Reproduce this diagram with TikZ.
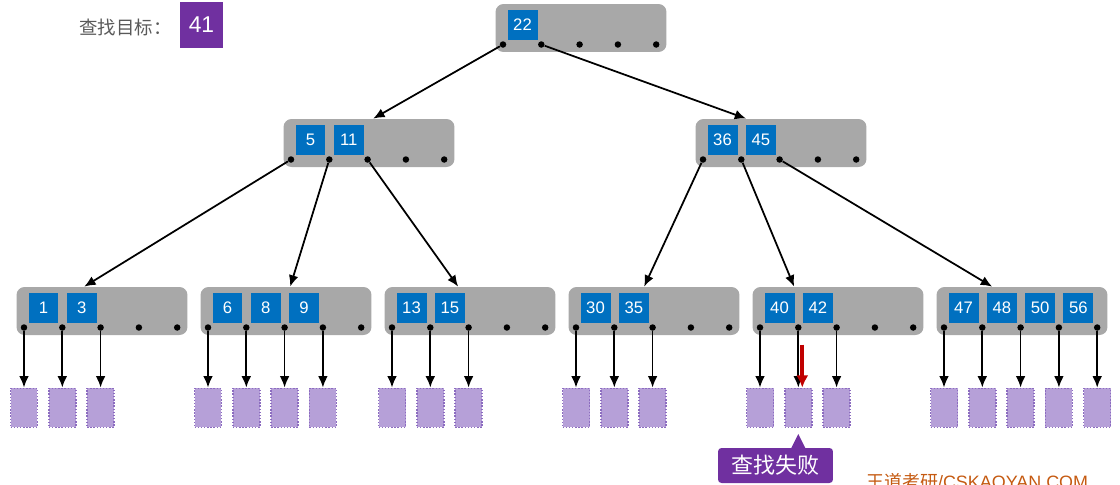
\documentclass[tikz,border=0pt]{standalone}
\usepackage{fontspec}
\setmainfont{Liberation Sans}
\newfontfamily\cjk{Noto Sans CJK SC}
\usetikzlibrary{positioning,calc,arrows.meta}
\definecolor{boxgray}{HTML}{A8A8A8}
\definecolor{keyblue}{HTML}{0070C0}
\definecolor{leafpurple}{HTML}{B6A0D8}
\definecolor{leafedge}{HTML}{8C6CC0}
\definecolor{failpurple}{HTML}{7030A0}
\definecolor{hitred}{HTML}{C00000}
\definecolor{labelgray}{HTML}{595959}
\definecolor{markbrown}{HTML}{C55A11}

\begin{document}
\begin{tikzpicture}[x=0.02cm,y=-0.02cm,
  every node/.append style={inner sep=0pt},
  gbox/.style={fill=boxgray,rounded corners=0.16cm,minimum width=3.42cm,minimum height=0.96cm},
  keybox/.style={fill=keyblue,text=white,minimum size=0.6cm,font=\fontsize{9.5}{10}\selectfont},
  ptr/.style={circle,fill=black,minimum size=0.13cm},
  leaf/.style={fill=leafpurple,draw=leafedge,densely dotted,line width=0.8pt,minimum width=0.54cm,minimum height=0.78cm},
  arr/.style={-{Latex[length=6.5pt,width=5.5pt]},line width=1pt},
  hitarr/.style={-{Latex[length=7pt,width=7pt]},line width=2.3pt,hitred},
  failnote/.style={fill=failpurple,text=white,rounded corners=2pt,
    minimum width=2.3cm,minimum height=0.7cm,font=\cjk\fontsize{12.5}{14}\selectfont}]
\useasboundingbox (0,0) rectangle (1120,484);
% search target
\node[anchor=west,text=labelgray,font=\cjk\fontsize{10.5}{12}\selectfont] (goal) at (79,27) {查找目标：};
\node[fill=failpurple,text=white,minimum width=0.86cm,minimum height=0.92cm,font=\fontsize{13}{14}\selectfont] (goalkey) at (201.5,25) {41};
% tree nodes: keys and pointers
\foreach \nm/\lx/\ty/\keys in {root/495/4/{22}, midL/283/119/{5,11}, midR/695/119/{36,45},
    leafA/16/287/{1,3}, leafB/200/287/{6,8,9}, leafC/384/287/{13,15},
    leafD/568/287/{30,35}, leafE/752/287/{40,42}, leafF/936/287/{47,48,50,56}} {
  \node[gbox] (\nm) at (\lx+86,\ty+24) {};
  \foreach \k [count=\i from 0] in \keys
    \node[keybox] (\nm-k\i) at (\lx+27.5+38.3*\i,\ty+20.5) {\k};
  \foreach \i in {0,...,4}
    \node[ptr] (\nm-p\i) at (\lx+8+38.3*\i,\ty+40.5) {};
}
% tree edges
\draw[arr] (root-p0) -- ($(midL.north west)+(90,0)$);
\draw[arr] (root-p1) -- ($(midR.north west)+(51,0)$);
\draw[arr] (midL-p0) -- ($(leafA.north west)+(68,0)$);
\draw[arr] (midL-p1) -- ($(leafB.north west)+(90,0)$);
\draw[arr] (midL-p2) -- ($(leafC.north west)+(74,0)$);
\draw[arr] (midR-p0) -- ($(leafD.north west)+(76,0)$);
\draw[arr] (midR-p1) -- ($(leafE.north west)+(42,0)$);
\draw[arr] (midR-p2) -- ($(leafF.north west)+(56,0)$);
% failure leaves
\foreach \nm/\n in {leafA/2, leafB/3, leafC/2, leafD/2, leafE/2, leafF/4}
  \foreach \i in {0,...,\n} {
    \node[leaf,below=1.13cm of \nm-p\i] (\nm-c\i) {};
    \draw[arr] (\nm-p\i) -- (\nm-c\i);
  }
% search for 41 ends here
\coordinate (hitfrom) at ($(leafE-c1.north)+(4,-43)$);
\draw[hitarr] (hitfrom) -- ($(leafE-c1.north)+(4,0)$);
\coordinate (failtip) at ($(leafE-c1.south)+(0,6)$);
\node[failnote] (failmsg) at (775.5,465.5) {查找失败};
\fill[failpurple] ($(failtip)+(-8,16)$) -- (failtip) -- ($(failtip)+(8,16)$) -- cycle;
\node[anchor=north west,text=markbrown,font=\fontsize{10.2}{12}\selectfont] (mark) at (866,473) {{\cjk 王道考研}/CSKAOYAN.COM};
\end{tikzpicture}
\end{document}
